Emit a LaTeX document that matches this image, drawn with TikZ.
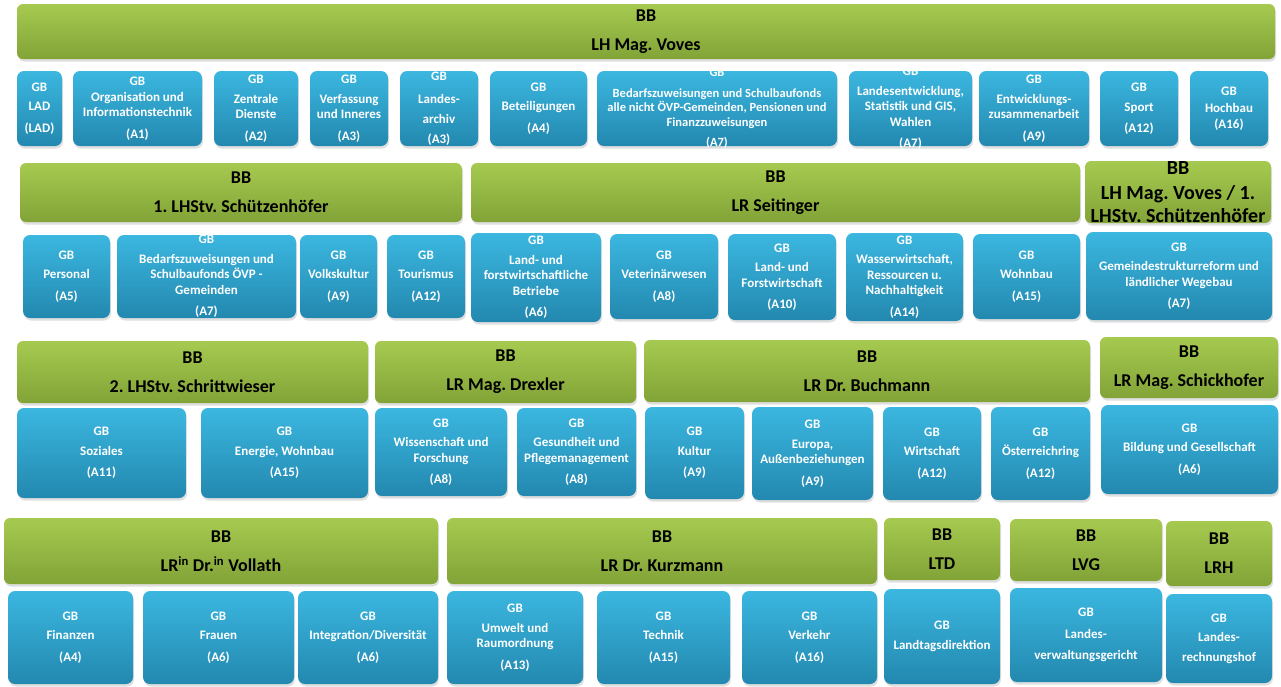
\documentclass[tikz,border=0pt]{standalone}
\usepackage{fontspec}
\setmainfont{Carlito}
\usetikzlibrary{shadows}
\definecolor{gtop}{HTML}{A6CA50}
\definecolor{gbot}{HTML}{82A337}
\definecolor{btop}{HTML}{3BB7E0}
\definecolor{bbot}{HTML}{2388AF}
\tikzset{
  bbshape/.style={rounded corners=6pt, top color=gtop, bottom color=gbot, draw=none, inner sep=0pt,
    drop shadow={shadow xshift=1pt, shadow yshift=-2.5pt, opacity=0.25}},
  gbshape/.style={rounded corners=7pt, top color=btop, bottom color=bbot, draw=none, inner sep=0pt,
    drop shadow={shadow xshift=1pt, shadow yshift=-2.5pt, opacity=0.25}},
  bbtext/.style={align=center, font=\fontsize{18}{22}\selectfont\bfseries, text=black, inner sep=0pt},
  gbtext/.style={align=center, font=\fontsize{13}{15.5}\selectfont\bfseries, text=white, inner sep=0pt},
}
\frenchspacing
\newcommand{\gbgap}{\\[4pt]}
\newcommand{\codegap}{\\[6pt]}
\newcommand{\bbgap}{\\[7pt]}
% blue box: [text opts]{name}{x1}{y1}{x2}{y2}{text}
\newcommand{\gbbox}[7][]{%
  \pgfmathsetmacro{\boxw}{#5-#3}\pgfmathsetmacro{\boxh}{#6-#4}%
  \node[gbshape, minimum width=\boxw pt, minimum height=\boxh pt] (#2) at ({(#3+#5)/2},{(#4+#6)/2}) {};
  \node[gbtext,#1] (#2t) at (#2.center) {#7};}
% green banner
\newcommand{\bbbox}[7][]{%
  \pgfmathsetmacro{\boxw}{#5-#3}\pgfmathsetmacro{\boxh}{#6-#4}%
  \node[bbshape, minimum width=\boxw pt, minimum height=\boxh pt] (#2) at ({(#3+#5)/2},{(#4+#6)/2}) {};
  \node[bbtext,#1] (#2t) at (#2.center) {#7};}
\begin{document}
\begin{tikzpicture}[x=1pt,y=-1pt]
\useasboundingbox (0,0) rectangle (1281,686);
\fill[white] (0,0) rectangle (1281,686);
% ---------- row 1
\bbbox{h1}{17}{4}{1275}{59}{BB\bbgap LH Mag. Voves}
\gbbox{r1a}{17}{71}{62}{146}{GB\gbgap LAD\codegap (LAD)}
\gbbox{r1b}{73}{71}{202}{146}{GB\\Organisation und\\Informationstechnik\codegap (A1)}
\gbbox{r1c}{214}{71}{298}{146}{GB\gbgap Zentrale\\Dienste\codegap (A2)}
\gbbox{r1d}{310}{71}{388}{146}{GB\gbgap Verfassung\\und Inneres\codegap (A3)}
\gbbox{r1e}{400}{71}{478}{146}{GB\\[8pt]Landes-\gbgap archiv\\[5pt](A3)}
\gbbox{r1f}{490}{71}{587}{146}{GB\gbgap Beteiligungen\codegap (A4)}
\gbbox[font=\fontsize{12.5}{14.5}\selectfont\bfseries]{r1g}{597}{71}{837}{146}{GB\\[6pt]Bedarfszuweisungen und Schulbaufonds\\alle nicht ÖVP-Gemeinden, Pensionen und\\Finanzzuweisungen\\[6pt](A7)}
\gbbox{r1h}{849}{71}{972}{146}{GB\gbgap Landesentwicklung,\\Statistik und GIS,\\Wahlen\codegap (A7)}
\gbbox{r1i}{979}{71}{1089}{146}{GB\gbgap Entwicklungs-\\zusammenarbeit\codegap (A9)}
\gbbox{r1j}{1100}{71}{1178}{146}{GB\\[5pt]Sport\\[5pt](A12)}
\gbbox{r1k}{1190}{71}{1268}{146}{GB\\[2pt]Hochbau\\(A16)}
% ---------- row 2
\bbbox{h2a}{20}{163}{462}{222}{BB\bbgap 1. LHStv. Schützenhöfer}
\bbbox{h2b}{471}{163}{1080}{222}{BB\bbgap LR Seitinger}
\bbbox[font=\fontsize{20}{23}\selectfont\bfseries]{h2c}{1085}{161}{1271}{223}{BB\\[2pt]LH Mag. Voves / 1.\\LHStv. Schützenhöfer}
\gbbox{r2a}{23}{235}{110}{318}{GB\gbgap Personal\codegap (A5)}
\gbbox{r2b}{117}{235}{296}{318}{GB\gbgap Bedarfszuweisungen und\\Schulbaufonds ÖVP -\\Gemeinden\codegap (A7)}
\gbbox{r2c}{300}{235}{377}{318}{GB\gbgap Volkskultur\codegap (A9)}
\gbbox{r2d}{387}{235}{465}{318}{GB\gbgap Tourismus\codegap (A12)}
\gbbox{r2e}{471}{233}{601}{322}{GB\gbgap Land- und\\forstwirtschaftliche\\Betriebe\codegap (A6)}
\gbbox{r2f}{610}{234}{718}{319}{GB\gbgap Veterinärwesen\codegap (A8)}
\gbbox{r2g}{728}{234}{836}{320}{GB\gbgap Land- und\\Forstwirtschaft\codegap (A10)}
\gbbox{r2h}{846}{233}{963}{321}{GB\gbgap Wasserwirtschaft,\\Ressourcen u.\\Nachhaltigkeit\codegap (A14)}
\gbbox{r2i}{973}{234}{1080}{319}{GB\gbgap Wohnbau\codegap (A15)}
\gbbox{r2j}{1086}{232}{1272}{320}{GB\gbgap Gemeindestrukturreform und\\ländlicher Wegebau\codegap (A7)}
% ---------- row 3
\bbbox{h3a}{17}{341}{368}{403}{BB\bbgap 2. LHStv. Schrittwieser}
\bbbox{h3b}{375}{341}{636}{403}{BB\bbgap LR Mag. Drexler}
\bbbox{h3c}{644}{340}{1090}{402}{BB\bbgap LR Dr. Buchmann}
\bbbox{h3d}{1100}{337}{1278}{398}{BB\bbgap LR Mag. Schickhofer}
\gbbox{r3a}{17}{408}{186}{498}{GB\gbgap Soziales\codegap (A11)}
\gbbox{r3b}{201}{408}{368}{498}{GB\gbgap Energie, Wohnbau\codegap (A15)}
\gbbox{r3c}{375}{408}{507}{496}{GB\gbgap Wissenschaft und\\Forschung\codegap (A8)}
\gbbox{r3d}{517}{408}{636}{496}{GB\gbgap Gesundheit und\\Pflegemanagement\codegap (A8)}
\gbbox{r3e}{645}{407}{744}{499}{GB\gbgap Kultur\codegap (A9)}
\gbbox{r3f}{752}{407}{873}{500}{GB\gbgap Europa,\\Außenbeziehungen\codegap (A9)}
\gbbox{r3g}{883}{407}{981}{500}{GB\gbgap Wirtschaft\codegap (A12)}
\gbbox{r3h}{991}{407}{1090}{500}{GB\gbgap Österreichring\codegap (A12)}
\gbbox{r3i}{1101}{405}{1278}{494}{GB\gbgap Bildung und Gesellschaft\codegap (A6)}
% ---------- row 4
\bbbox{h4a}{4}{518}{438}{584}{BB\bbgap LR\textsuperscript{in} Dr.\textsuperscript{in} Vollath}
\bbbox{h4b}{447}{518}{877}{584}{BB\bbgap LR Dr. Kurzmann}
\bbbox{h4c}{884}{518}{1000}{580}{BB\bbgap LTD}
\bbbox{h4d}{1010}{519}{1162}{581}{BB\bbgap LVG}
\bbbox{h4e}{1166}{521}{1272}{586}{BB\bbgap LRH}
\gbbox{r4a}{8}{591}{133}{684}{GB\gbgap Finanzen\codegap (A4)}
\gbbox{r4b}{143}{591}{294}{684}{GB\gbgap Frauen\codegap (A6)}
\gbbox{r4c}{298}{591}{438}{684}{GB\gbgap Integration/Diversität\codegap (A6)}
\gbbox{r4d}{447}{591}{583}{684}{GB\gbgap Umwelt und\\Raumordnung\codegap (A13)}
\gbbox{r4e}{597}{591}{730}{684}{GB\gbgap Technik\codegap (A15)}
\gbbox{r4f}{742}{591}{877}{684}{GB\gbgap Verkehr\codegap (A16)}
\gbbox{r4g}{884}{589}{1000}{684}{GB\gbgap Landtagsdirektion}
\gbbox{r4h}{1010}{588}{1162}{682}{GB\codegap Landes-\codegap verwaltungsgericht}
\gbbox{r4i}{1166}{594}{1272}{683}{GB\gbgap Landes-\gbgap rechnungshof}
\end{tikzpicture}
\end{document}
